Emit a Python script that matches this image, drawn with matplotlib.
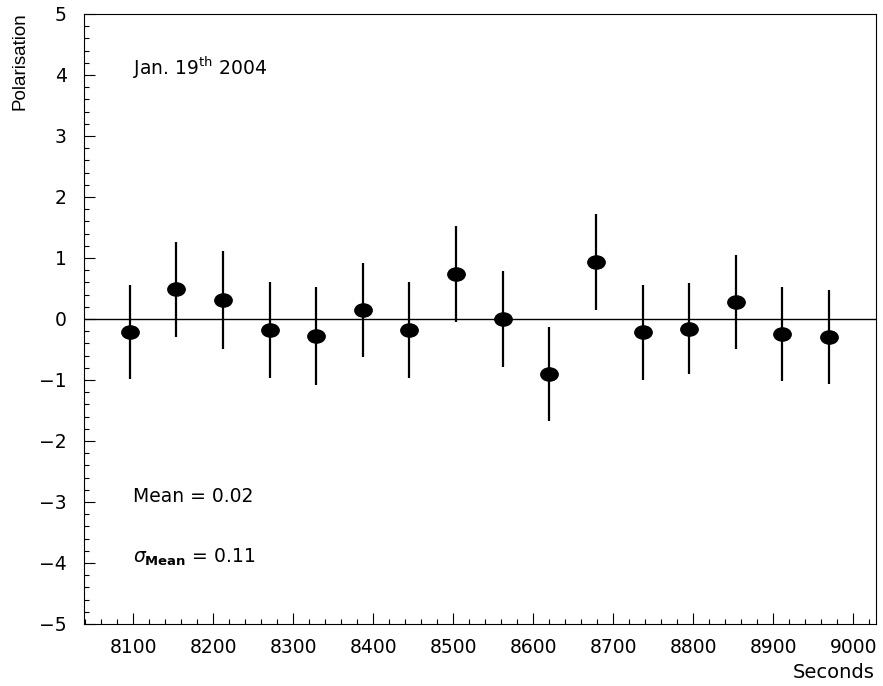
import matplotlib
matplotlib.use("Agg")
import matplotlib.pyplot as plt
from matplotlib.path import Path
from matplotlib.transforms import Affine2D
from matplotlib.ticker import MultipleLocator

# Data
seconds = [8096, 8154, 8212, 8271, 8329, 8387, 8445, 8504,
           8562, 8620, 8678, 8737, 8795, 8853, 8911, 8970]
polarisation = [-0.21, 0.49, 0.31, -0.18, -0.28, 0.15, -0.18, 0.74,
                0.00, -0.90, 0.93, -0.22, -0.16, 0.28, -0.25, -0.30]
errors = [0.77, 0.78, 0.80, 0.79, 0.80, 0.77, 0.78, 0.79,
          0.79, 0.77, 0.79, 0.78, 0.75, 0.77, 0.77, 0.77]

date_text = r"Jan. 19$^{\mathrm{th}}$ 2004"
mean_text = "Mean = 0.02"
sigma_text = r"$\sigma_{\mathbf{Mean}}$ = 0.11"

plt.rcParams["font.family"] = ["DejaVu Sans"]
plt.rcParams["mathtext.fontset"] = "dejavusans"

fig = plt.figure(figsize=(8.83, 6.86), dpi=100)
ax = fig.add_axes([0.0946, 0.0904, 0.8971, 0.8892])

# Elliptical marker (wider than tall)
ellipse = Path.unit_circle().transformed(Affine2D().scale(1.0, 0.76))

ax.axhline(0, color="black", lw=1.0, zorder=1)
ax.errorbar(seconds, polarisation, yerr=errors, fmt="none", ecolor="black",
            elinewidth=1.6, capsize=0, zorder=2)
ax.plot(seconds, polarisation, linestyle="none", marker=ellipse,
        markersize=12.5, color="black", zorder=3)

ax.set_xlim(8038, 9028)
ax.set_ylim(-5, 5)
ax.xaxis.set_major_locator(MultipleLocator(100))
ax.xaxis.set_minor_locator(MultipleLocator(20))
ax.yaxis.set_major_locator(MultipleLocator(1))
ax.yaxis.set_minor_locator(MultipleLocator(0.2))
ax.tick_params(which="both", direction="in", top=False, right=False,
               width=0.8, labelsize=13.5)
ax.tick_params(which="major", length=8)
ax.tick_params(which="minor", length=3.8)
ax.tick_params(axis="x", pad=10)
ax.tick_params(axis="y", pad=12)
for spine in ax.spines.values():
    spine.set_linewidth(0.8)

ax.text(8100, 4.0, date_text, fontsize=13.5, va="baseline", ha="left")
ax.text(8100, -3.0, mean_text, fontsize=13.5, va="baseline", ha="left")
ax.text(8100, -4.0, sigma_text, fontsize=13.5, va="baseline", ha="left")

fig.text(875 / 883, 1 - 678 / 686, "Seconds", fontsize=14,
         ha="right", va="baseline")
fig.text(20 / 883, 1 - 12 / 686, "Polarisation", fontsize=13.5,
         family="Liberation Sans", rotation=90, ha="center", va="top")

fig.savefig("out.png", dpi=100)
